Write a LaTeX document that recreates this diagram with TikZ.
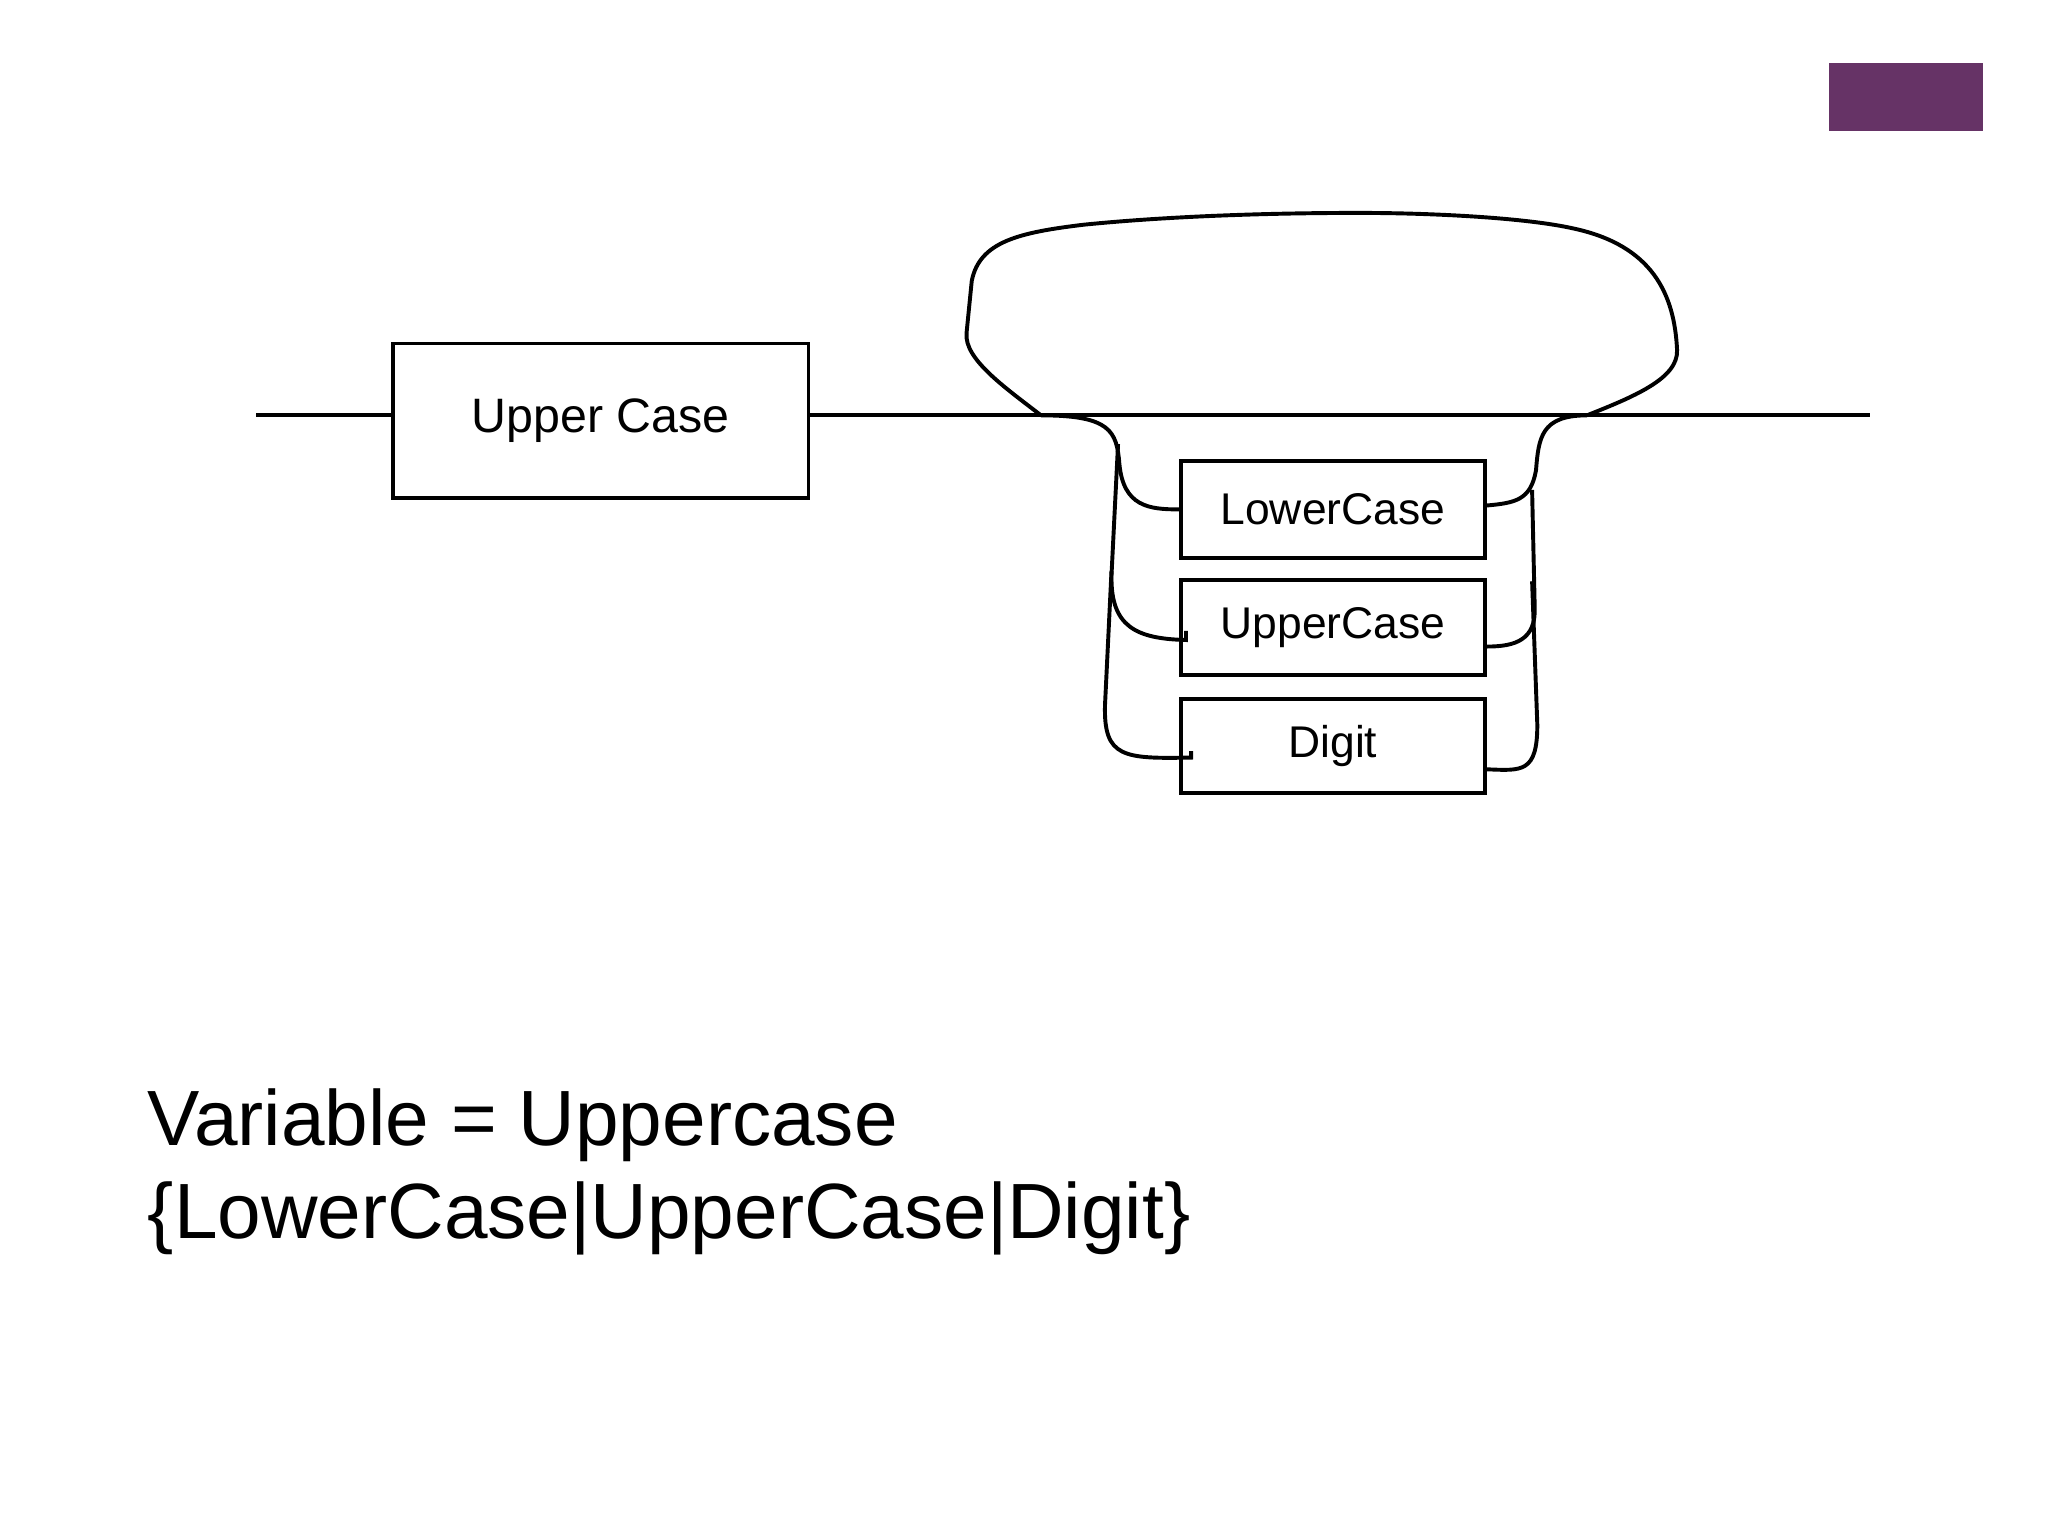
\documentclass[tikz,border=0pt]{standalone}
\usepackage{fontspec}
\setmainfont{Liberation Sans}
\begin{document}
\begin{tikzpicture}[x=1pt,y=-1pt,
  box/.style={draw,line width=3pt,minimum height=74pt,inner sep=0pt,font=\fontsize{34}{40}\selectfont},
  wire/.style={line width=3pt}]
\useasboundingbox (0,0) rectangle (1568,1176);
\fill[fill={rgb,255:red,102;green,51;blue,102}] (1400,48) rectangle (1518,100);
\node[box,minimum width=318pt,minimum height=118pt,font=\fontsize{37}{44}\selectfont] (uc) at (460,322) {Upper Case};
\node[box,minimum width=233pt] (lc) at (1020.5,390) {LowerCase};
\node[box,minimum width=233pt,minimum height=73pt] (uc2) at (1020.5,480.5) {UpperCase};
\node[box,minimum width=233pt,minimum height=72pt] (dg) at (1020.5,571) {Digit};
\coordinate (start) at (196,318);
\coordinate (end) at (1432,318);
\coordinate (jl) at (797,318);
\coordinate (jr) at (1215,318);
\draw[wire] (start) -- (uc.west|-start);
\draw[wire] (uc.east|-start) -- (end);
% loop back
\draw[wire] (jl) .. controls (770,297) and (738,275) .. (740,255)
  -- (744,215) .. controls (750,185) and (780,178) .. (830,172)
  .. controls (900,165) and (980,163) .. (1040,163)
  .. controls (1100,163) and (1170,167) .. (1205,175)
  .. controls (1265,188) and (1282,225) .. (1284,268)
  .. controls (1285,290) and (1250,304) .. (jr);
% left branches
\draw[wire] (jl) .. controls (850,318) and (855,330) .. (857,355)
  .. controls (860,388) and (880,390) .. (lc.west|-0,390);
\draw[wire] (856,340) -- (851,440) .. controls (850,480) and (870,489) .. (908,490) -- (908,483);
\draw[wire] (851,437) -- (846,540) .. controls (845,580) and (860,581) .. (912,580) -- (912,575);
% right branches
\draw[wire] (jr) .. controls (1180,318) and (1178,335) .. (1176,360)
  .. controls (1172,383) and (1160,385) .. (lc.east|-0,387);
\draw[wire] (1173,375) -- (1175,465) .. controls (1176,490) and (1160,495) .. (uc2.east|-0,495);
\draw[wire] (1173,445) -- (1177,555) .. controls (1177,592) and (1165,590) .. (dg.east|-0,589);
\node[anchor=base west,inner sep=0pt,font=\fontsize{60}{72}\selectfont] (t1) at (113,877) {Variable = Uppercase};
\node[anchor=base west,inner sep=0pt,font=\fontsize{60}{72}\selectfont] (t2) at (113,948) {\{LowerCase|UpperCase|Digit\}};
\end{tikzpicture}
\end{document}
